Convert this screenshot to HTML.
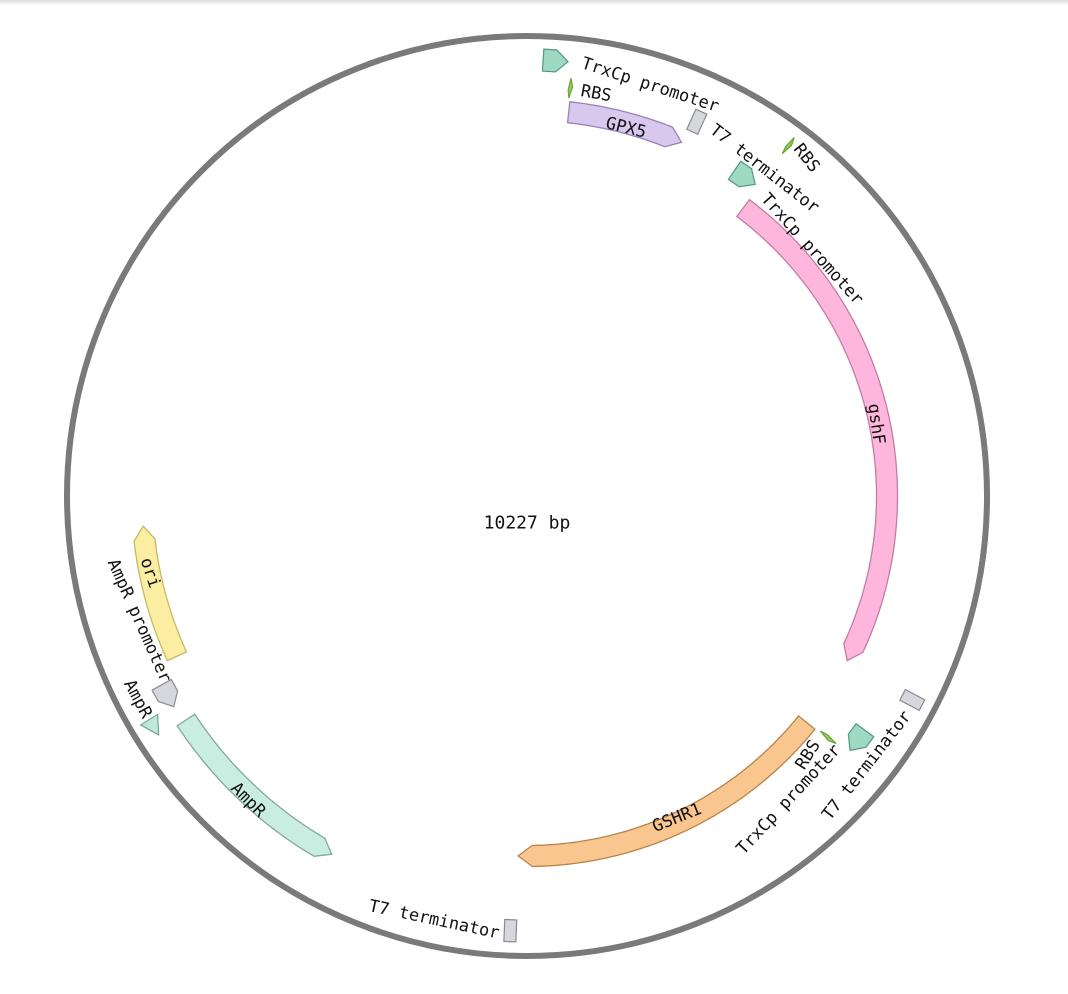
<!DOCTYPE html>
<html><head><meta charset="utf-8">
<style>
html,body{margin:0;padding:0;background:#fff;width:1068px;height:994px;overflow:hidden}
svg text{font-family:"DejaVu Sans Mono","Liberation Mono",monospace;fill:#111}
</style></head>
<body>
<svg id="map" width="1068" height="994" viewBox="0 0 1068 994" xmlns="http://www.w3.org/2000/svg">
<defs><linearGradient id="topshade" x1="0" y1="0" x2="0" y2="1"><stop offset="0" stop-color="#d8d8d8"/><stop offset="1" stop-color="#fff"/></linearGradient></defs>
<rect x="0" y="0" width="1068" height="5" fill="url(#topshade)"/>
<circle cx="527" cy="496" r="460" fill="none" stroke="#7a7a7a" stroke-width="6"/>
<text x="527" y="523" text-anchor="middle" dominant-baseline="central" font-size="18">10227 bp</text>
<g id="features"></g>
<g id="labels"></g>
</svg>
<script>
// Band features (arcs)
const bandNames = ["gshF","GSHR1","GPX5","ori","AmpR"];
const bandStarts = [36.9, 129, 6.2, 245.4, 208.6];
const bandEnds = [117.2, 181.4, 23.6, 265.5, 236.7];
const bandRadii = [360, 360, 386, 385, 408];
const bandDirs = [1, 1, 1, 1, -1];
const bandFills = ["#ffb6dc","#f9c690","#d9c8ee","#fbeea3","#c9ede0"];
const bandStrokes = ["#c27ca4","#b8834a","#9b80b8","#c9b865","#84a89a"];
// Small features
const smallNames = ["TrxCp promoter","RBS","T7 terminator","RBS","TrxCp promoter","T7 terminator","TrxCp promoter","RBS","T7 terminator","AmpR promoter","AmpR"];
const smallTypes = ["promoter","rbs","term","rbs","promoter","term","promoter","rbs","term","promoter","tri"];
const smallAngles = [3.7, 6.0, 24.4, 36.7, 34.3, 117.9, 126.4, 128.7, 182.2, 241.0, 238.2];
const smallRadii = [436, 410, 411, 437, 386, 436, 411, 386, 435, 411, 439];
const smallDirs = [1,1,1,1,1,1,1,1,1,-1,-1];
const smallColors = ["teal","green","gray","green","teal","gray","teal","green","gray","gray","mint"];
// Labels
const labelTexts = ["TrxCp promoter","RBS","GPX5","T7 terminator","RBS","TrxCp promoter","gshF","GSHR1","RBS","TrxCp promoter","T7 terminator","T7 terminator","AmpR","AmpR","AmpR promoter","ori"];
const labelX = [582,581,626,712,797,764,876,677,800,740,826,369,248,128,112,150];
const labelY = [63,91,128,128,146,196,424,818,768,852,818,906,800,681,560,573];
const labelRot = [18,10,14,38,52,48,82,-22,-58,-47,-52,12,45,62,66,72];
const labelMid = [0,0,1,0,0,0,1,1,0,0,0,0,1,0,0,1];

const CX=527, CY=496, NS="http://www.w3.org/2000/svg";
const palette={teal:["#9dd9c3","#4f9a80"],green:["#8fd14f","#6aa33a"],gray:["#d6d6dd","#8a8a95"],mint:["#bfe8da","#6fa893"]};
function pt(a,r){const t=a*Math.PI/180;return [CX+r*Math.sin(t),CY-r*Math.cos(t)];}
function arcPts(a1,a2,r){const n=Math.max(2,Math.ceil(Math.abs(a2-a1)*2));const p=[];for(let i=0;i<=n;i++)p.push(pt(a1+(a2-a1)*i/n,r));return p;}
const fg=document.getElementById('features'), lg=document.getElementById('labels');
const W=21, HEAD=14;
for(let i=0;i<bandNames.length;i++){
  const r=bandRadii[i], ro=r+W/2, ri=r-W/2, h=HEAD/r*180/Math.PI;
  let a1=bandStarts[i], a2=bandEnds[i], pts;
  if(bandDirs[i]>0){
    pts=[...arcPts(a1,a2-h,ro), pt(a2,r), ...arcPts(a2-h,a1,ri)];
  } else {
    pts=[pt(a1,r), ...arcPts(a1+h,a2,ro), ...arcPts(a2,a1+h,ri)];
  }
  const p=document.createElementNS(NS,'polygon');
  p.setAttribute('points',pts.map(q=>q[0].toFixed(1)+','+q[1].toFixed(1)).join(' '));
  p.setAttribute('fill',bandFills[i]);p.setAttribute('stroke',bandStrokes[i]);p.setAttribute('stroke-width','1.3');
  
  
  fg.appendChild(p);
}
const shapes={
  promoter:"-12,-11 1,-11 13,0 1,11 -12,11",
  tri:"-9,-10 9,0 -9,10",
  rbs:"0,-10 2.5,-2 0,10 -1.5,2",
  term:"-6,-11 6,-11 6,11 -6,11"
};
for(let i=0;i<smallNames.length;i++){
  const [x,y]=pt(smallAngles[i],smallRadii[i]);
  const g=document.createElementNS(NS,'polygon');
  g.setAttribute('points',shapes[smallTypes[i]]);
  const c=palette[smallColors[i]];
  g.setAttribute('fill',c[0]);g.setAttribute('stroke',c[1]);g.setAttribute('stroke-width','1.2');
  g.setAttribute('transform',`translate(${x.toFixed(1)},${y.toFixed(1)}) rotate(${smallAngles[i]}) scale(${smallDirs[i]},1)`);
  
  
  fg.appendChild(g);
}
for(let i=0;i<labelTexts.length;i++){
  const t=document.createElementNS(NS,'text');
  t.setAttribute('x',labelX[i]);t.setAttribute('y',labelY[i]);
  t.setAttribute('font-size','17');
  t.setAttribute('dominant-baseline','central');
  t.setAttribute('text-anchor',labelMid[i]?'middle':'start');
  t.setAttribute('transform',`rotate(${labelRot[i]} ${labelX[i]} ${labelY[i]})`);
  t.textContent=labelTexts[i];
  
  
  lg.appendChild(t);
}
</script>
</body></html>
